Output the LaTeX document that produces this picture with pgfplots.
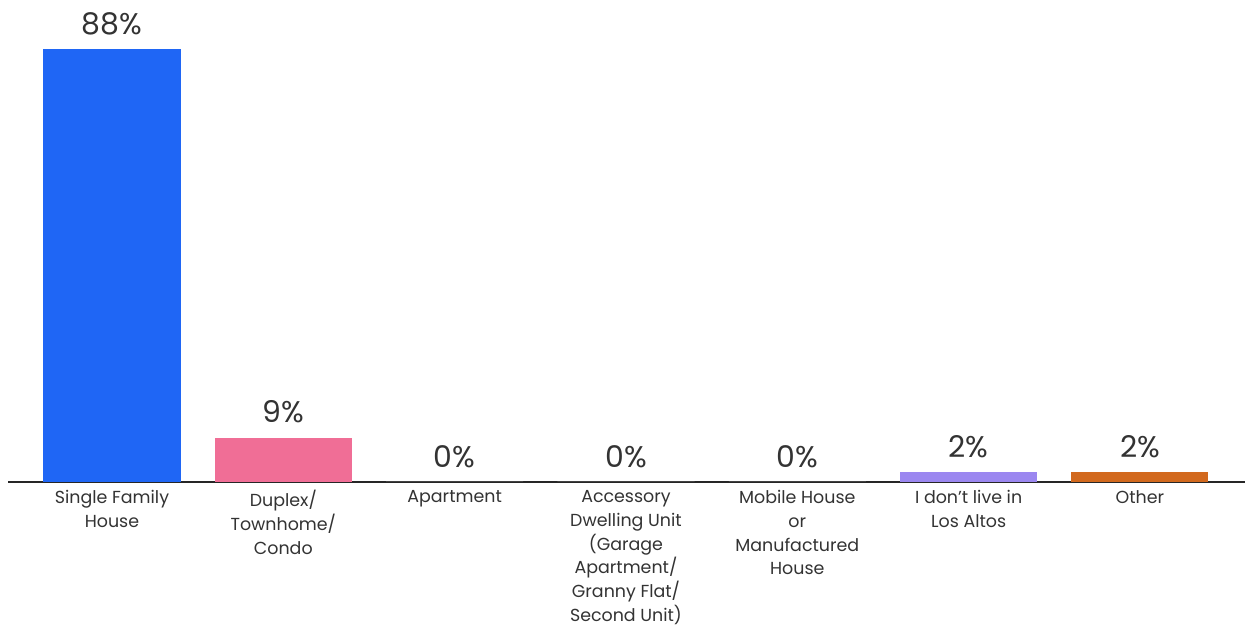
\documentclass[border=0pt]{standalone}
\usepackage{pgfplots}
\pgfplotsset{compat=1.18}
\usepackage{fontspec}
\setmainfont{Poppins}
\definecolor{cblue}{HTML}{1F66F5}
\definecolor{cpink}{HTML}{F06E96}
\definecolor{clav}{HTML}{9B87F0}
\definecolor{corange}{HTML}{D2691E}
\definecolor{ctext}{HTML}{333333}
\begin{document}
\begin{tikzpicture}
\useasboundingbox (0,0) rectangle (1253bp,629bp);
\begin{axis}[
  at={(8bp,147bp)}, anchor=south west,
  scale only axis, width=1237bp, height=482bp,
  xmin=-0.607, xmax=6.613, ymin=0, ymax=98,
  /pgf/number format/assume math mode=true,
  hide y axis,
  axis x line*=bottom,
  x axis line style={line width=1.6pt, black!85},
  major tick length=0,
  xtick={0,1,2,3,4,5,6},
  xticklabels={{Single Family\\House},{Duplex/\\Townhome/\\Condo},{Apartment},{Accessory\\Dwelling Unit\\(Garage\\Apartment/\\Granny Flat/\\Second Unit)},{Mobile House\\or\\Manufactured\\House},{I don't live in\\Los Altos},{Other}},
  xticklabel style={align=center, font=\fontsize{17.5}{23.8}\selectfont, text=ctext, yshift=-5pt},
  ybar, bar width=0.8, bar shift=0pt,
  clip=false,
  nodes near coords={\pgfmathprintnumber{\pgfplotspointmeta}\%},
  every node near coord/.append style={font=\fontsize{30}{34}\selectfont, text=ctext, yshift=11pt},
]
\addplot[fill=cblue, draw=none] coordinates {(0,88)};
\addplot[fill=cpink, draw=none] coordinates {(1,9)};
\addplot[fill=white, draw=none] coordinates {(2,0) (3,0) (4,0)};
\addplot[fill=clav, draw=none] coordinates {(5,2)};
\addplot[fill=corange, draw=none] coordinates {(6,2)};
\end{axis}
\end{tikzpicture}
\end{document}
